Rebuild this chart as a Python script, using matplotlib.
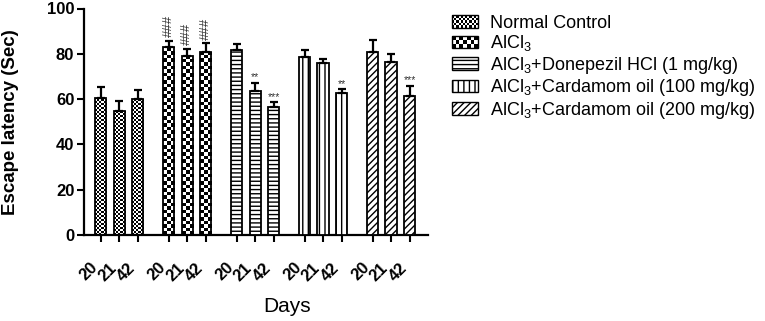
import numpy as np
import matplotlib
matplotlib.use('Agg')
import matplotlib.pyplot as plt
from matplotlib.patches import Rectangle, Patch
from matplotlib.legend_handler import HandlerBase

plt.rcParams['font.family'] = ['Liberation Sans', 'DejaVu Sans']
plt.rcParams['mathtext.fontset'] = 'custom'
plt.rcParams['mathtext.rm'] = 'Liberation Sans'
plt.rcParams['mathtext.bf'] = 'Liberation Sans:bold'
plt.rcParams['mathtext.default'] = 'regular'
plt.rcParams['hatch.linewidth'] = 1.0

# ---------------- data ----------------
groups = ['Normal Control',
          r'AlCl$_3$',
          r'AlCl$_3$+Donepezil HCl (1 mg/kg)',
          r'AlCl$_3$+Cardamom oil (100 mg/kg)',
          r'AlCl$_3$+Cardamom oil (200 mg/kg)']
days = ['20', '21', '42']

normal_control = [60.4, 54.7, 59.9]
normal_control_sem = [4.8, 4.5, 4.1]
alcl3 = [82.9, 79.0, 80.7]
alcl3_sem = [2.9, 3.1, 3.9]
donepezil = [81.8, 63.7, 56.4]
donepezil_sem = [2.5, 3.3, 2.2]
cardamom_100 = [78.7, 75.8, 62.8]
cardamom_100_sem = [2.8, 2.0, 1.5]
cardamom_200 = [80.9, 76.2, 61.5]
cardamom_200_sem = [5.2, 3.6, 4.4]

means = [normal_control, alcl3, donepezil, cardamom_100, cardamom_200]
sems = [normal_control_sem, alcl3_sem, donepezil_sem, cardamom_100_sem, cardamom_200_sem]
significance = [['', '', ''],
                ['###', '###', '###'],
                ['', '**', '***'],
                ['', '', '**'],
                ['', '', '***']]

# fill styles: ('checker', square size px) or ('hatch', pattern)
styles = [('checker', 2.0), ('checker', 3.6), ('hatch', '----'), ('hatch', '|||'), ('hatch', '/////')]

# ---------------- figure ----------------
fig = plt.figure(figsize=(7.65, 3.21), dpi=100)
ax = fig.add_axes([84 / 765, 1 - 235 / 321, 344 / 765, 226.5 / 321])

group_gap = 3.675
bar_w = 0.6
xlim = (-0.9, 17.7)
ylim = (0, 100)
ax.set_xlim(*xlim)
ax.set_ylim(*ylim)

bb = ax.get_window_extent()
px_x = bb.width / (xlim[1] - xlim[0])
px_y = bb.height / (ylim[1] - ylim[0])


def add_checker(bar, sq_px):
    x0 = bar.get_x()
    w = bar.get_width()
    h = bar.get_height()
    sx = sq_px / px_x
    sy = sq_px / px_y
    nc = int(np.ceil(w / sx))
    nr = int(np.ceil(h / sy))
    arr = (np.add.outer(np.arange(nr), np.arange(nc)) % 2).astype(float)
    im = ax.imshow(arr, cmap='gray', vmin=0, vmax=1,
                   extent=(x0, x0 + nc * sx, 0, nr * sy), origin='lower',
                   aspect='auto', interpolation='nearest', zorder=2)
    im.set_clip_path(bar)


all_x = []
for g in range(len(groups)):
    x = g * group_gap + np.arange(len(days))
    all_x.extend(x)
    kind, val = styles[g]
    if kind == 'checker':
        bars = ax.bar(x, means[g], width=bar_w, facecolor='none',
                      edgecolor='black', linewidth=1.3, zorder=3)
        for b in bars:
            add_checker(b, val)
    else:
        bars = ax.bar(x, means[g], width=bar_w, facecolor='white',
                      edgecolor='black', linewidth=1.3, hatch=val, zorder=3)
    ax.errorbar(x, means[g], yerr=[np.zeros(len(days)), sems[g]], fmt='none',
                ecolor='black', elinewidth=1.6, capsize=3.2, capthick=1.6, zorder=4)
    for xi, m, s, lab in zip(x, means[g], sems[g], significance[g]):
        if not lab:
            continue
        if lab.startswith('#'):
            ax.text(xi, m + s + 1.6, lab, rotation=90, ha='center', va='bottom',
                    fontsize=9.5, color='#333333', zorder=5)
        else:
            ax.text(xi, m + s + 0.3, lab, ha='center', va='bottom',
                    fontsize=7.5, color='#333333', zorder=5)

ax.set_xlim(*xlim)
ax.set_ylim(*ylim)

# axes styling
for side in ['top', 'right']:
    ax.spines[side].set_visible(False)
for side in ['left', 'bottom']:
    ax.spines[side].set_linewidth(1.6)
ax.set_yticks([0, 20, 40, 60, 80, 100])
ax.set_xticks(all_x)
ax.set_xticklabels(days * len(groups), rotation=45, ha='right', fontweight='bold')
for lab in ax.get_yticklabels():
    lab.set_fontweight('bold')
ax.tick_params(axis='both', width=1.5, length=5, direction='out')
ax.tick_params(axis='y', pad=2, labelsize=12)
ax.tick_params(axis='x', pad=13, labelsize=12)

fig.text(11 / 765, 1 - 122 / 321, 'Escape latency (Sec)', rotation=90,
         ha='center', va='center', fontsize=13.5, fontweight='bold')
fig.text(287 / 765, 1 - 307 / 321, 'Days', ha='center', va='center', fontsize=15)


# ---------------- legend ----------------
class CheckerHandler(HandlerBase):
    def __init__(self, ncols, nrows):
        super().__init__()
        self.ncols = ncols
        self.nrows = nrows

    def create_artists(self, legend, orig_handle, xdescent, ydescent,
                       width, height, fontsize, trans):
        arts = [Rectangle((-xdescent, -ydescent), width, height, facecolor='white',
                          edgecolor='none', transform=trans)]
        cw = width / self.ncols
        ch = height / self.nrows
        for i in range(self.ncols):
            for j in range(self.nrows):
                if (i + j) % 2 == 0:
                    arts.append(Rectangle((-xdescent + i * cw, -ydescent + j * ch), cw, ch,
                                          facecolor='black', edgecolor='none', transform=trans))
        arts.append(Rectangle((-xdescent, -ydescent), width, height, facecolor='none',
                              edgecolor='black', linewidth=1.0, transform=trans))
        return arts


handles = []
hmap = {}
for g, (kind, val) in enumerate(styles):
    if kind == 'checker':
        h = Patch(facecolor='white', edgecolor='black', label=groups[g])
        hmap[h] = CheckerHandler(12, 5) if val < 3 else CheckerHandler(7, 3)
    else:
        h = Patch(facecolor='white', edgecolor='black', hatch=val, linewidth=1.0,
                  label=groups[g])
    handles.append(h)

fig.legend(handles=handles, handler_map=hmap, loc='upper left',
           bbox_to_anchor=(452 / 765, 1 - 15 / 321), frameon=False,
           fontsize=13, handlelength=1.45, handleheight=0.7,
           handletextpad=0.65, labelspacing=0.08, borderpad=0, borderaxespad=0)

fig.savefig('out.png', dpi=100)
